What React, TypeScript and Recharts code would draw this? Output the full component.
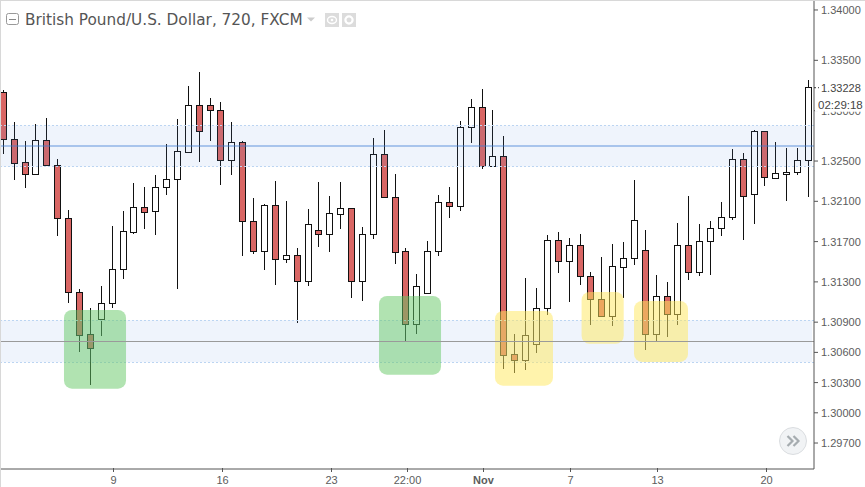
import React from 'react';
import { ComposedChart, Bar, XAxis, YAxis, ReferenceArea, ReferenceLine } from 'recharts';

const opens = [1.33183,1.32716,1.32488,1.32369,1.32706,1.32458,1.31932,1.31197,1.3078,1.30935,1.31088,1.31425,1.31799,1.32041,1.32001,1.32239,1.32319,1.32593,1.33054,1.33054,1.33004,1.32508,1.32686,1.31902,1.31604,1.32061,1.31524,1.31564,1.31306,1.31812,1.31779,1.31977,1.32031,1.31312,1.31773,1.32567,1.3214,1.31604,1.30879,1.31187,1.31604,1.3209,1.32051,1.32835,1.33034,1.32448,1.32547,1.30581,1.30527,1.3068,1.31038,1.31713,1.31505,1.31663,1.31356,1.31127,1.30958,1.31451,1.31534,1.31614,1.3078,1.31157,1.30978,1.31663,1.31395,1.31703,1.31832,1.31942,1.32517,1.3217,1.32795,1.32335,1.32374,1.32388,1.32508];
const highs = [1.33206,1.32888,1.32699,1.32868,1.32928,1.3252,1.32014,1.31227,1.31038,1.31259,1.31855,1.32004,1.32282,1.32242,1.32362,1.32669,1.32918,1.33245,1.33384,1.33126,1.33086,1.32888,1.32699,1.32133,1.32074,1.32302,1.32103,1.31637,1.32024,1.32292,1.32153,1.32292,1.32031,1.31845,1.32729,1.32808,1.32371,1.31637,1.31375,1.31706,1.32163,1.32242,1.32898,1.33116,1.33216,1.33007,1.32749,1.30783,1.31339,1.31239,1.31766,1.31796,1.31736,1.31776,1.31398,1.31547,1.31676,1.31696,1.32312,1.31815,1.31369,1.31299,1.31885,1.32153,1.31875,1.31905,1.32093,1.3262,1.3258,1.32808,1.32795,1.32689,1.3263,1.3263,1.33305];
const lows = [1.3257,1.32312,1.32232,1.32362,1.32451,1.31756,1.31094,1.30607,1.30279,1.30763,1.31041,1.31332,1.31776,1.31825,1.31766,1.32163,1.31233,1.32583,1.32491,1.32702,1.32262,1.32362,1.3156,1.31577,1.31421,1.31272,1.31491,1.30895,1.31262,1.3165,1.31597,1.31825,1.3114,1.3111,1.31726,1.3214,1.31478,1.30713,1.30783,1.31187,1.3156,1.31935,1.32004,1.32679,1.32424,1.32448,1.30435,1.30398,1.30425,1.30594,1.30971,1.31391,1.31103,1.31272,1.30875,1.30958,1.30865,1.31143,1.31471,1.30624,1.30713,1.30753,1.30872,1.31319,1.31356,1.31372,1.31756,1.31915,1.31716,1.31875,1.32252,1.32322,1.32103,1.32362,1.32143];
const closes = [1.32716,1.32484,1.32369,1.32706,1.32458,1.31932,1.31197,1.30776,1.30647,1.31088,1.31425,1.31802,1.32041,1.31997,1.32239,1.32319,1.32597,1.33054,1.32795,1.33004,1.32508,1.32686,1.31902,1.31604,1.32061,1.31524,1.31564,1.31306,1.31872,1.31779,1.31981,1.32031,1.31312,1.31773,1.32567,1.3214,1.316,1.30879,1.31256,1.31604,1.3209,1.32051,1.32835,1.33034,1.32448,1.32547,1.30577,1.30527,1.3077,1.31038,1.31713,1.31505,1.31663,1.31356,1.31127,1.30958,1.31455,1.31534,1.31912,1.3078,1.31157,1.30978,1.31663,1.31395,1.31703,1.31832,1.31942,1.32517,1.3215,1.32795,1.32339,1.32378,1.32388,1.32508,1.33232];

const priceTicks = [1.34, 1.335, 1.33, 1.325, 1.321, 1.317, 1.313, 1.309, 1.306, 1.303, 1.3, 1.297, 1.33228];
const dateTicks = [10, 20, 30, 37, 44, 52, 60, 70];
const dateLabels = ['9', '16', '23', '22:00', 'Nov', '7', '13', '20'];
const lastPrice = 1.33228;
const countdown = '02:29:18';

// [x1, x2, top price, bottom price]
const greenBoxes = [[5.58, 11.28, 1.31021, 1.3024], [34.53, 40.23, 1.3116, 1.30379]];
const yellowBoxes = [[45.19, 50.52, 1.31011, 1.30269], [53.15, 57.02, 1.312, 1.30686], [57.97, 62.93, 1.3111, 1.30505]];
const bands = [[1.32853, 1.32446], [1.30919, 1.30502]];
const upperLevel = 1.3265;
const lowerLevel = 1.30708;
const zoneEnd = 74.33;

const data = opens.map((open, i) => ({
  i,
  open,
  high: highs[i],
  low: lows[i],
  close: closes[i],
  range: [lows[i], highs[i]],
}));

const axisFont = 'Arial, "Liberation Sans", sans-serif';

const Candle = (props: any) => {
  const { x, width, y, height, payload } = props;
  const cx = Math.round(x + width / 2) + 0.5;
  const perPrice = height / (payload.high - payload.low);
  const top = y + (payload.high - Math.max(payload.open, payload.close)) * perPrice;
  const bottom = y + (payload.high - Math.min(payload.open, payload.close)) * perPrice;
  const down = payload.close < payload.open;
  const bodyTop = Math.round(top) + 0.5;
  const bodyH = Math.max(Math.round(bottom) - Math.round(top), 1);
  return (
    <g>
      <line x1={cx} x2={cx} y1={y} y2={y + height} stroke="#111" strokeWidth={1} shapeRendering="crispEdges" />
      <rect x={cx - 3} y={bodyTop} width={6} height={bodyH} fill={down ? '#D96664' : '#fff'} stroke="#111" strokeWidth={1} shapeRendering="crispEdges" />
    </g>
  );
};

const PriceTick = (props: any) => {
  const { x, y, payload } = props;
  if (payload.value === lastPrice) {
    return (
      <g fontFamily={axisFont} fontSize={11}>
        <rect x={x - 6} y={y - 8} width={50} height={16} fill="#fff" />
        <line x1={x - 7} x2={x - 2} y1={y} y2={y} stroke="#333" strokeDasharray="2 2" />
        <text x={x} y={y + 4} fill="#444">{payload.value.toFixed(5)}</text>
        <rect x={x - 6} y={y + 8} width={50} height={16} fill="#fff" />
        <text x={x - 3} y={y + 21} fill="#444" fontSize={11.5}>{countdown}</text>
      </g>
    );
  }
  return (
    <g fontFamily={axisFont} fontSize={11}>
      <line x1={x - 7} x2={x - 3} y1={y} y2={y} stroke="#555" />
      <text x={x} y={y + 4} fill="#5c5c5c">{payload.value.toFixed(5)}</text>
    </g>
  );
};

const DateTick = (props: any) => {
  const { x, y, payload } = props;
  const label = dateLabels[dateTicks.indexOf(payload.value)];
  const px = Math.round(x) + 1.5;
  return (
    <g>
      <line x1={px} x2={px} y1={y - 1} y2={y + 3} stroke="#555" shapeRendering="crispEdges" />
      <text x={px} y={y + 15} textAnchor="middle" fontFamily={axisFont} fontSize={11} fontWeight={label === 'Nov' ? 700 : 400} fill="#5c5c5c">
        {label}
      </text>
    </g>
  );
};

const Header = () => (
  <>
    <svg width={865} height={40} style={{ position: 'absolute', left: 0, top: 0 }}>
      <rect x={6.5} y={13.5} width={12} height={11} rx={2} fill="none" stroke="#999" />
      <line x1={9} x2={16} y1={19.5} y2={19.5} stroke="#888" />
      <path d="M307 17.5h8l-4 4z" fill="#ccc" />
      <rect x={325} y={13} width={14} height={14} fill="#dcdcdc" />
      <ellipse cx={332} cy={20} rx={4.5} ry={3.5} fill="none" stroke="#fff" strokeWidth={1.4} />
      <circle cx={332} cy={20} r={1.3} fill="#fff" />
      <rect x={342} y={13} width={14} height={14} fill="#dcdcdc" />
      <circle cx={349} cy={20} r={3.6} fill="none" stroke="#fff" strokeWidth={2.2} />
    </svg>
    <div style={{ position: 'absolute', left: 25, top: 10, fontFamily: '"DejaVu Sans", sans-serif', fontSize: 15.3, color: '#555', whiteSpace: 'nowrap', lineHeight: '20px' }}>
      British Pound/U.S. Dollar, 720, FXCM
    </div>
  </>
);

const ScrollButton = () => (
  <svg width={30} height={30} style={{ position: 'absolute', left: 778, top: 426 }}>
    <circle cx={15} cy={15} r={13.5} fill="#F1F3F5" stroke="#DADDE0" />
    <path d="M9.5 10l5 5-5 5M15.5 10l5 5-5 5" fill="none" stroke="#A6ACB0" strokeWidth={2.2} />
  </svg>
);

export default function App() {
  return (
    <div style={{ position: 'absolute', left: 0, top: 0, width: 865, height: 487, background: '#fff', overflow: 'hidden' }}>
      <ComposedChart width={865} height={487} data={data} margin={{ top: 0, right: 0, bottom: 0, left: 1 }} barCategoryGap={0}>
        <XAxis
          dataKey="i"
          type="number"
          domain={[-0.21, 74.51]}
          ticks={dateTicks}
          interval={0}
          height={18}
          tick={<DateTick />}
          tickLine={false}
          tickMargin={0}
          tickSize={0}
          stroke="#555"
          allowDataOverflow
        />
        <YAxis
          orientation="right"
          type="number"
          domain={[1.29442, 1.34099]}
          ticks={priceTicks}
          interval={0}
          width={51}
          tick={<PriceTick />}
          tickLine={false}
          tickMargin={1}
          stroke="#555"
          allowDataOverflow
        />
        <Bar dataKey="range" barSize={8} shape={<Candle />} isAnimationActive={false} />
        {bands.map(([top, bottom], k) => (
          <ReferenceArea key={`band${k}`} zIndex={450} x1={-0.21} x2={zoneEnd} y1={top} y2={bottom} fill="rgb(96,150,225)" fillOpacity={0.1} stroke="none" />
        ))}
        {bands.flat().map((level, k) => (
          <ReferenceLine key={`edge${k}`} zIndex={450} y={level} segment={[{ x: -0.21, y: level }, { x: zoneEnd, y: level }]} stroke="#BCD5F2" strokeDasharray="2 2" shapeRendering="crispEdges" />
        ))}
        <ReferenceLine zIndex={450} y={upperLevel} segment={[{ x: -0.21, y: upperLevel }, { x: zoneEnd, y: upperLevel }]} stroke="rgb(62,125,212)" strokeOpacity={0.4} strokeWidth={2} shapeRendering="crispEdges" />
        <ReferenceLine zIndex={450} y={lowerLevel} segment={[{ x: -0.21, y: lowerLevel }, { x: zoneEnd, y: lowerLevel }]} stroke="#7BA3D8" shapeRendering="crispEdges" />
        {greenBoxes.map(([x1, x2, top, bottom], k) => (
          <ReferenceArea key={`green${k}`} zIndex={460} x1={x1} x2={x2} y1={top} y2={bottom} fill="rgb(100,200,100)" fillOpacity={0.5} stroke="none" radius={8} />
        ))}
        {yellowBoxes.map(([x1, x2, top, bottom], k) => (
          <ReferenceArea key={`yellow${k}`} zIndex={460} x1={x1} x2={x2} y1={top} y2={bottom} fill="rgb(255,232,90)" fillOpacity={0.5} stroke="none" radius={8} />
        ))}
        {[...greenBoxes, ...yellowBoxes].map(([x1, x2], k) => (
          <ReferenceLine key={`grey${k}`} zIndex={470} y={lowerLevel} segment={[{ x: x1, y: lowerLevel }, { x: x2, y: lowerLevel }]} stroke="#9A9A9A" shapeRendering="crispEdges" />
        ))}
      </ComposedChart>
      <div style={{ position: 'absolute', left: 0, top: 0, width: 865, height: 1, background: '#d8d8d8' }} />
      <div style={{ position: 'absolute', left: 0, top: 0, width: 1, height: 487, background: '#d8d8d8' }} />
      <Header />
      <ScrollButton />
    </div>
  );
}
